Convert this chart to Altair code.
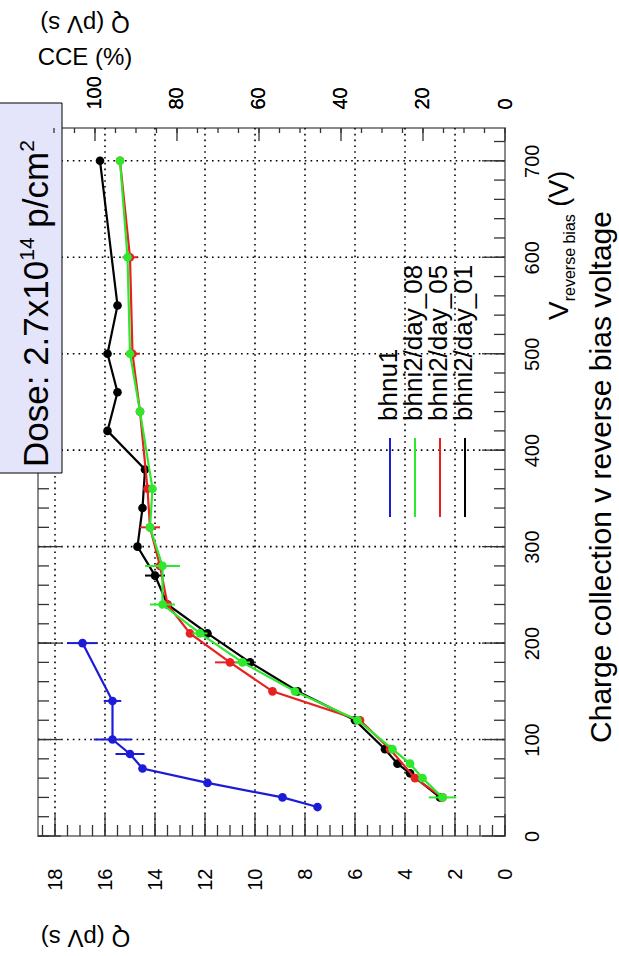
import altair as alt
import pandas as pd

# ---------------- data: reverse bias voltage (V) vs collected charge Q (pV s) ----------------
SERIES = ["bhnu1", "bhni2/day_08", "bhni2/day_05", "bhni2/day_01"]
COLORS = ["#1c1cd8", "#2ee82e", "#e82020", "#000000"]

bhnu1_v = [30, 40, 55, 70, 85, 100, 140, 200]
bhnu1_q = [7.5, 8.9, 11.9, 14.5, 15.0, 15.7, 15.7, 16.9]
bhnu1_qerr = [0, 0, 0, 0, 0.58, 0.75, 0.35, 0.6]
bhnu1_verr = [0, 0, 0, 0, 0, 0, 0, 0]

day08_v = [40, 60, 75, 90, 120, 150, 180, 210, 240, 280, 320, 360, 440, 500, 600, 700]
day08_q = [2.5, 3.3, 3.8, 4.5, 5.9, 8.4, 10.5, 12.2, 13.7, 13.7, 14.2, 14.1, 14.6, 15.0, 15.1, 15.4]
day08_qerr = [0.55, 0, 0, 0, 0, 0, 0.3, 0.3, 0.5, 0.7, 0, 0, 0, 0, 0, 0]
day08_verr = [0] * 16

day05_v = [40, 60, 90, 120, 150, 180, 210, 240, 280, 320, 360, 440, 500, 600, 700]
day05_q = [2.5, 3.6, 4.6, 5.8, 9.3, 11.0, 12.6, 13.5, 13.8, 14.2, 14.3, 14.6, 14.9, 15.0, 15.4]
day05_qerr = [0, 0, 0, 0, 0, 0.6, 0, 0, 0, 0.4, 0, 0, 0.3, 0.3, 0]
day05_verr = [0] * 15

day01_v = [40, 65, 75, 90, 120, 150, 180, 210, 240, 270, 300, 340, 380, 420, 460, 500, 550, 700]
day01_q = [2.6, 3.8, 4.3, 4.8, 6.0, 8.3, 10.2, 11.9, 13.5, 14.0, 14.7, 14.5, 14.4, 15.9, 15.5, 15.9, 15.5, 16.2]
day01_qerr = [0, 0, 0, 0, 0, 0, 0, 0, 0, 0.4, 0, 0, 0, 0, 0, 0, 0, 0]
day01_verr = [0] * 18

# axis tick values
q_major = [0, 2, 4, 6, 8, 10, 12, 14, 16, 18]
q_minor = [i * 0.5 for i in range(0, 38)]
v_major = [0, 100, 200, 300, 400, 500, 600, 700]
v_minor = [i * 20 for i in range(0, 37)]
cce_major = [0, 20, 40, 60, 80, 100]
cce_minor = [i * 5 for i in range(0, 23)]

# ---------------- layout ----------------
FONT = "Liberation Sans"
W, H = 467, 708
Q_MAX, V_MAX, CCE_MAX = 18.68, 734, 113.9

ARIAL = {'D': .722, 'o': .556, 's': .5, 'e': .556, ':': .278, ' ': .278, '2': .556, '.': .278,
         '7': .556, 'x': .5, '1': .556, '0': .556, '4': .556, 'p': .556, '/': .278, 'c': .5,
         'm': .833, 'V': .667, 'r': .333, 'v': .5, 'b': .556, 'i': .222, 'a': .556, '(': .333,
         ')': .333}


def text_width(s, size):
    return sum(ARIAL.get(ch, 0.556) for ch in s) * size


q_scale = alt.Scale(domain=[0, Q_MAX], reverse=True, nice=False, zero=False)
v_scale = alt.Scale(domain=[0, V_MAX], nice=False, zero=False)
cce_scale = alt.Scale(domain=[0, CCE_MAX], reverse=True, nice=False, zero=False)

q_axis = alt.Axis(orient="bottom", values=q_major, labelAngle=270, labelAlign="right",
                  labelBaseline="middle", labelPadding=32, labelFontSize=20, labelFont=FONT,
                  labelColor="black", labelFlush=False, labelOverlap=False, ticks=False,
                  tickSize=0, domain=False, grid=False, title="Q (pV s)", titleFont=FONT,
                  titleFontSize=24, titleFontWeight="normal", titleColor="black",
                  titleAngle=180, titleAlign="center", titleBaseline="middle",
                  titleX=47, titleY=100)
v_axis = alt.Axis(orient="right", values=v_major, labelAngle=270, labelAlign="center",
                  labelBaseline="top", labelPadding=17, labelFontSize=20, labelFont=FONT,
                  labelColor="black", labelFlush=False, labelOverlap=False, ticks=False,
                  tickSize=0, domain=False, grid=False, title="")
cce_axis = alt.Axis(orient="top", values=cce_major, labelAngle=270, labelAlign="left",
                    labelBaseline="middle", labelPadding=19, labelFontSize=20, labelFont=FONT,
                    labelColor="black", labelFlush=False, labelOverlap=False, ticks=False,
                    tickSize=0, domain=False, grid=False, title="")


def qx(field):
    return alt.X(field, type="quantitative", scale=q_scale, axis=q_axis)


def vy(field):
    return alt.Y(field, type="quantitative", scale=v_scale, axis=v_axis)


one = pd.DataFrame({"k": [0]})


def label(txt, x, y, size, angle=0, align="left", baseline="alphabetic"):
    return alt.Chart(one).mark_text(text=txt, font=FONT, fontSize=size, angle=angle,
                                    align=align, baseline=baseline, color="black",
                                    fontWeight="normal").encode(
        x=alt.value(x), y=alt.value(y))


def rotated_run(parts, y_start):
    """Lay out text pieces reading bottom-to-top; a leading space becomes an advance."""
    out = []
    y = y_start
    for txt, size, bx in parts:
        stripped = txt.lstrip(" ")
        y -= text_width(txt[:len(txt) - len(stripped)], size)
        out.append(label(stripped, bx, y, size, angle=270))
        y -= text_width(stripped, size)
    return out


layers = []

# dotted grid
layers.append(alt.Chart(pd.DataFrame({"q": q_major[1:]})).mark_rule(
    color="black", strokeWidth=1.6, strokeDash=[1.6, 4.2]).encode(
    x=qx("q"), y=alt.value(0), y2=alt.value(H)))
layers.append(alt.Chart(pd.DataFrame({"v": v_major[1:]})).mark_rule(
    color="black", strokeWidth=1.6, strokeDash=[1.6, 4.2]).encode(
    y=vy("v"), x=alt.value(0), x2=alt.value(W)))

# inward ticks along the frame
TICK = "#333333"
for vals, ln in ((q_minor, 11), (q_major, 22)):
    layers.append(alt.Chart(pd.DataFrame({"q": vals})).mark_rule(color=TICK, strokeWidth=1.3).encode(
        x=qx("q"), y=alt.value(H), y2=alt.value(H - ln)))
for vals, ln in ((v_minor, 11), (v_major, 23)):
    d = pd.DataFrame({"v": vals})
    layers.append(alt.Chart(d).mark_rule(color=TICK, strokeWidth=1.3).encode(
        y=vy("v"), x=alt.value(0), x2=alt.value(ln)))
    layers.append(alt.Chart(d).mark_rule(color=TICK, strokeWidth=1.3).encode(
        y=vy("v"), x=alt.value(W), x2=alt.value(W - ln)))


def frame(name, v, q, qerr, verr):
    return pd.DataFrame({"series": name, "v": v, "q": q, "qerr": qerr, "verr": verr})


data = {
    "bhnu1": frame("bhnu1", bhnu1_v, bhnu1_q, bhnu1_qerr, bhnu1_verr),
    "bhni2/day_08": frame("bhni2/day_08", day08_v, day08_q, day08_qerr, day08_verr),
    "bhni2/day_05": frame("bhni2/day_05", day05_v, day05_q, day05_qerr, day05_verr),
    "bhni2/day_01": frame("bhni2/day_01", day01_v, day01_q, day01_qerr, day01_verr),
}
color_of = dict(zip(SERIES, COLORS))

# series drawn back to front
for name in ["bhnu1", "bhni2/day_01", "bhni2/day_05", "bhni2/day_08"]:
    col = color_of[name]
    base = alt.Chart(data[name])
    layers.append(base.transform_filter("datum.qerr > 0").transform_calculate(
        lo="datum.q - datum.qerr", hi="datum.q + datum.qerr").mark_rule(
        color=col, strokeWidth=2).encode(x=qx("lo"), x2="hi:Q", y=vy("v")))
    layers.append(base.transform_filter("datum.verr > 0").transform_calculate(
        lo="datum.v - datum.verr", hi="datum.v + datum.verr").mark_rule(
        color=col, strokeWidth=2).encode(x=qx("q"), y=vy("lo"), y2="hi:Q"))
    layers.append(base.mark_line(color=col, strokeWidth=2.2).encode(
        x=qx("q"), y=vy("v"), order=alt.Order("v:Q")))
    layers.append(base.mark_circle(color=col, size=75, opacity=1).encode(
        x=qx("q"), y=vy("v")))

# legend: vertical line samples with rotated labels
LEG_X0, LEG_STEP = 352, 25
for i, name in enumerate(SERIES):
    lx = LEG_X0 + i * LEG_STEP
    layers.append(alt.Chart(one).mark_rule(color=color_of[name], strokeWidth=2).encode(
        x=alt.value(lx), y=alt.value(310), y2=alt.value(389)))
    layers.append(label(name, lx + 7, 293, 26, angle=270))

# dose annotation box
layers.append(alt.Chart(one).mark_rect(fill="#e4e4fb", stroke="black", strokeWidth=1).encode(
    x=alt.value(-45), x2=alt.value(24), y=alt.value(-25), y2=alt.value(345)))
layers += rotated_run([("Dose: 2.7x10", 35, 10), ("14", 21, -4),
                       (" p/cm", 35, 10), ("2", 21, -4)], 339)

# voltage axis title with subscript
layers += rotated_run([("V", 28, 530), ("reverse bias", 16, 537), (" (V)", 27, 530)], 192)

# chart title and the labels of the upper scale
layers.append(label("Charge collection v reverse bias voltage", 573, 349, 30, angle=270,
                    align="center"))
layers.append(label("Q (pV s)", 47, -105, 24, angle=180, align="center", baseline="middle"))
layers.append(label("CCE (%)", 47, -70, 24, align="center", baseline="middle"))

charge_layers = alt.layer(*layers)

# CCE scale along the top edge
cce_layers = []
for vals, ln in ((cce_minor, 5), (cce_major, 13)):
    cce_layers.append(alt.Chart(pd.DataFrame({"c": vals})).mark_rule(color=TICK, strokeWidth=1.3).encode(
        x=alt.X("c:Q", scale=cce_scale, axis=cce_axis), y=alt.value(0), y2=alt.value(ln)))

chart = alt.layer(charge_layers, *cce_layers).resolve_scale(x="independent").properties(
    width=W, height=H, autosize=alt.AutoSizeParams(type="none"),
    padding={"left": 38, "top": 128, "right": 114, "bottom": 120},
    background="white",
).configure_view(stroke="#8a8a8a", strokeWidth=2).configure_axis(
    titleFontWeight="normal", labelFontWeight="normal")

chart.save("out.html", embed_options={"renderer": "svg", "actions": False})
